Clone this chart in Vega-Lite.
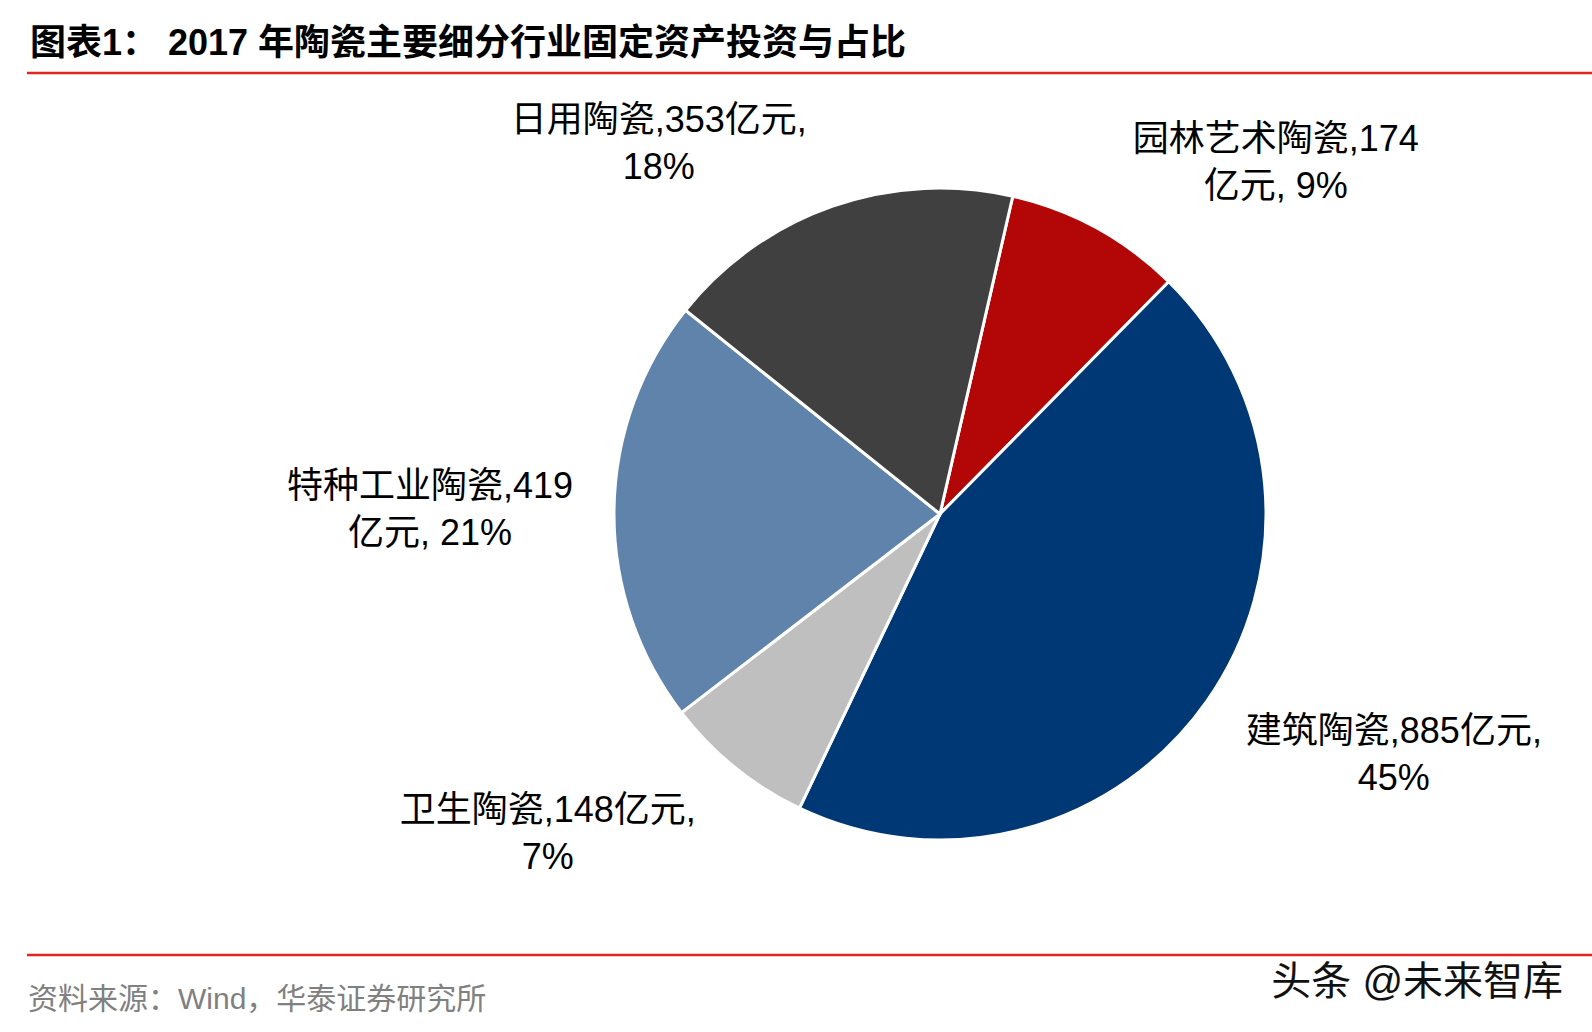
{
  "$schema": "https://vega.github.io/schema/vega-lite/v6.json",
  "autosize": "none",
  "width": 1304,
  "height": 882,
  "padding": {"left": 288, "top": 73, "right": 0, "bottom": 77},
  "background": "white",
  "config": {"view": {"stroke": null}},
  "title": {
    "text": "图表1：    2017 年陶瓷主要细分行业固定资产投资与占比",
    "anchor": "start",
    "frame": "group",
    "dx": -258,
    "offset": 7,
    "fontSize": 36,
    "font": "Liberation Sans, Noto Sans CJK SC",
    "fontWeight": "bold",
    "color": "#000000"
  },
  "data": {
    "values": [
      {"idx": 1, "category": "园林艺术陶瓷", "value": 174, "label": "园林艺术陶瓷,174\n亿元, 9%"},
      {"idx": 2, "category": "建筑陶瓷", "value": 885, "label": "建筑陶瓷,885亿元,\n45%"},
      {"idx": 3, "category": "卫生陶瓷", "value": 148, "label": "卫生陶瓷,148亿元,\n7%"},
      {"idx": 4, "category": "特种工业陶瓷", "value": 419, "label": "特种工业陶瓷,419\n亿元, 21%"},
      {"idx": 5, "category": "日用陶瓷", "value": 353, "label": "日用陶瓷,353亿元,\n18%"}
    ]
  },
  "layer": [
    {
      "encoding": {
        "theta": {"field": "value", "type": "quantitative", "stack": true, "scale": {"range": [0.2251, 6.5083]}},
        "order": {"field": "idx", "type": "quantitative"}
      },
      "layer": [
        {
          "mark": {"type": "arc", "outerRadius": 326, "stroke": "white", "strokeWidth": 3},
          "encoding": {
            "color": {
              "field": "category",
              "type": "nominal",
              "scale": {
                "domain": ["园林艺术陶瓷", "建筑陶瓷", "卫生陶瓷", "特种工业陶瓷", "日用陶瓷"],
                "range": ["#B30606", "#003876", "#BFBFBF", "#5F83AB", "#404040"]
              },
              "legend": null
            }
          }
        },
        {
          "mark": {"type": "text", "radius": 420, "dx": 134, "dy": -6, "align": "center", "baseline": "middle", "lineBreak": "\n", "lineHeight": 47, "fontSize": 36, "font": "Liberation Sans, Noto Sans CJK SC", "color": "#000000"},
          "encoding": {"text": {"condition": {"test": "datum.category === '园林艺术陶瓷'", "field": "label"}, "value": ""}}
        },
        {
          "mark": {"type": "text", "radius": 420, "dx": 110, "dy": -23, "align": "center", "baseline": "middle", "lineBreak": "\n", "lineHeight": 47, "fontSize": 36, "font": "Liberation Sans, Noto Sans CJK SC", "color": "#000000"},
          "encoding": {"text": {"condition": {"test": "datum.category === '建筑陶瓷'", "field": "label"}, "value": ""}}
        },
        {
          "mark": {"type": "text", "radius": 420, "dx": -128, "dy": -29, "align": "center", "baseline": "middle", "lineBreak": "\n", "lineHeight": 47, "fontSize": 36, "font": "Liberation Sans, Noto Sans CJK SC", "color": "#000000"},
          "encoding": {"text": {"condition": {"test": "datum.category === '卫生陶瓷'", "field": "label"}, "value": ""}}
        },
        {
          "mark": {"type": "text", "radius": 420, "dx": -90, "dy": -23, "align": "center", "baseline": "middle", "lineBreak": "\n", "lineHeight": 47, "fontSize": 36, "font": "Liberation Sans, Noto Sans CJK SC", "color": "#000000"},
          "encoding": {"text": {"condition": {"test": "datum.category === '特种工业陶瓷'", "field": "label"}, "value": ""}}
        },
        {
          "mark": {"type": "text", "radius": 420, "dx": -143, "dy": 4, "align": "center", "baseline": "middle", "lineBreak": "\n", "lineHeight": 47, "fontSize": 36, "font": "Liberation Sans, Noto Sans CJK SC", "color": "#000000"},
          "encoding": {"text": {"condition": {"test": "datum.category === '日用陶瓷'", "field": "label"}, "value": ""}}
        }
      ]
    },
    {
      "data": {"values": [{"name": "top"}]},
      "mark": {"type": "rule", "color": "#E0261F", "strokeWidth": 2.5},
      "encoding": {"x": {"value": -261}, "x2": {"value": "width"}, "y": {"value": 0}}
    },
    {
      "data": {"values": [{"name": "bottom"}]},
      "mark": {"type": "rule", "color": "#E0261F", "strokeWidth": 2.5},
      "encoding": {"x": {"value": -261}, "x2": {"value": "width"}, "y": {"value": "height"}}
    },
    {
      "data": {"values": [{"t": "资料来源：Wind，华泰证券研究所"}]},
      "mark": {"type": "text", "align": "left", "baseline": "middle", "dy": 45, "fontSize": 30, "font": "Liberation Sans, Noto Sans CJK SC", "color": "#808080"},
      "encoding": {"text": {"field": "t"}, "x": {"value": -260}, "y": {"value": "height"}}
    },
    {
      "data": {"values": [{"t": "头条 @未来智库"}]},
      "mark": {"type": "text", "align": "right", "baseline": "middle", "dx": -29, "dy": 28, "fontSize": 40, "font": "Liberation Sans, Noto Sans CJK SC", "color": "#111111"},
      "encoding": {"text": {"field": "t"}, "x": {"value": "width"}, "y": {"value": "height"}}
    }
  ]
}
